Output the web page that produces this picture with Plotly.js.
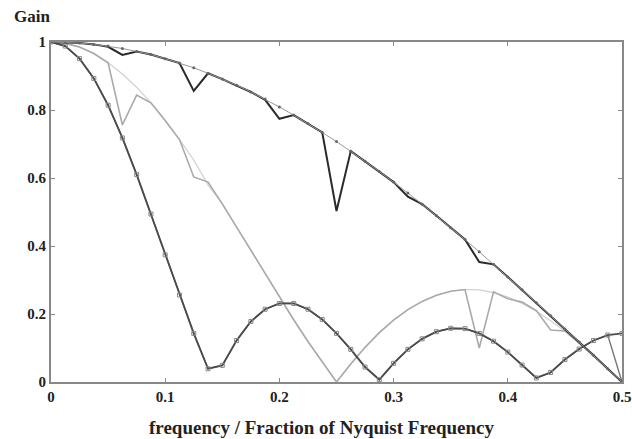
<!DOCTYPE html>
<html>
<head>
<meta charset="utf-8">
<script src="https://cdn.plot.ly/plotly-3.0.1.min.js"></script>
<style>html,body{margin:0;padding:0;background:#fff;}#chart{width:632px;height:439px;}</style>
</head>
<body>
<div id="chart"></div>
<script>
// Frequency samples (fraction of Nyquist)
var freq = [0, 0.0125, 0.025, 0.0375, 0.05, 0.0625, 0.075, 0.0875, 0.1, 0.1125,
  0.125, 0.1375, 0.15, 0.1625, 0.175, 0.1875, 0.2, 0.2125, 0.225, 0.2375,
  0.25, 0.2625, 0.275, 0.2875, 0.3, 0.3125, 0.325, 0.3375, 0.35, 0.3625,
  0.375, 0.3875, 0.4, 0.4125, 0.425, 0.4375, 0.45, 0.4625, 0.475, 0.4875, 0.5];

// Top (black) pair: smooth reference with dots, and measured with dips
var blackSmooth = [1, 0.999, 0.997, 0.993, 0.988, 0.981, 0.972, 0.963, 0.951, 0.938,
  0.924, 0.908, 0.891, 0.873, 0.853, 0.832, 0.809, 0.785, 0.760, 0.734,
  0.707, 0.679, 0.649, 0.619, 0.588, 0.556, 0.523, 0.489, 0.454, 0.419,
  0.383, 0.346, 0.309, 0.271, 0.233, 0.195, 0.156, 0.118, 0.079, 0.039, 0];
var blackMeasured = [1, 0.999, 0.997, 0.993, 0.986, 0.962, 0.972, 0.963, 0.951, 0.938,
  0.856, 0.908, 0.891, 0.873, 0.853, 0.830, 0.774, 0.785, 0.760, 0.734,
  0.503, 0.679, 0.649, 0.619, 0.588, 0.545, 0.523, 0.489, 0.454, 0.419,
  0.353, 0.346, 0.309, 0.271, 0.233, 0.195, 0.156, 0.118, 0.079, 0.039, 0];

// Middle (light grey) pair
var lightSmooth = [1, 0.996, 0.985, 0.966, 0.939, 0.906, 0.867, 0.821, 0.769, 0.713,
  0.653, 0.580, 0.524, 0.456, 0.387, 0.318, 0.250, 0.183, 0.119, 0.058,
  0, 0.053, 0.102, 0.145, 0.182, 0.213, 0.237, 0.255, 0.267, 0.272,
  0.271, 0.263, 0.250, 0.231, 0.208, 0.180, 0.149, 0.114, 0.078, 0.039, 0];
var lightMeasured = [1, 0.996, 0.985, 0.966, 0.939, 0.756, 0.844, 0.821, 0.769, 0.713,
  0.603, 0.588, 0.524, 0.456, 0.387, 0.316, 0.250, 0.183, 0.119, 0.058,
  0, 0.053, 0.102, 0.145, 0.182, 0.213, 0.237, 0.255, 0.267, 0.272,
  0.100, 0.265, 0.245, 0.235, 0.210, 0.153, 0.150, 0.114, 0.078, 0.039, 0];

// Lower (dark grey) pair with square markers
var darkSmooth = [1, 0.988, 0.951, 0.893, 0.814, 0.718, 0.610, 0.494, 0.374, 0.256,
  0.143, 0.039, 0.049, 0.122, 0.178, 0.214, 0.231, 0.231, 0.214, 0.184,
  0.143, 0.096, 0.044, 0.007, 0.055, 0.096, 0.127, 0.148, 0.158, 0.157,
  0.143, 0.120, 0.088, 0.050, 0.012, 0.028, 0.066, 0.097, 0.122, 0.138, 0.143];
var darkMeasured = [1, 0.988, 0.951, 0.893, 0.814, 0.718, 0.610, 0.494, 0.374, 0.256,
  0.143, 0.039, 0.049, 0.122, 0.178, 0.214, 0.231, 0.231, 0.214, 0.184,
  0.143, 0.096, 0.044, 0.007, 0.055, 0.096, 0.127, 0.148, 0.158, 0.157,
  0.143, 0.120, 0.088, 0.050, 0.012, 0.028, 0.066, 0.097, 0.122, 0.138, 0];

var xTitle = "frequency / Fraction of Nyquist Frequency";
var yTitle = "Gain";

var serif = "Liberation Serif, Times New Roman, serif";

var traces = [
  {x: freq, y: lightSmooth, mode: "lines", line: {color: "#d0d0d0", width: 1.2}},
  {x: freq, y: lightMeasured, mode: "lines", line: {color: "#aaaaaa", width: 1.6}},
  {x: freq, y: darkMeasured, mode: "lines", line: {color: "#777777", width: 1.4}},
  {x: freq, y: darkSmooth, mode: "lines+markers", line: {color: "#4a4a4a", width: 1.8},
    marker: {symbol: "square-open", size: 4, color: "#888888", line: {width: 1}}},
  {x: freq, y: blackMeasured, mode: "lines", line: {color: "#2a2a2a", width: 2}},
  {x: freq, y: blackSmooth, mode: "lines+markers", line: {color: "#999999", width: 1},
    marker: {symbol: "circle", size: 3, color: "#666666"}}
];

var axisCommon = {
  showgrid: false, zeroline: false, showline: true, linecolor: "#888888", linewidth: 2,
  mirror: "ticks", ticks: "inside", ticklen: 4, tickcolor: "#888888", tickwidth: 1,
  tickfont: {family: serif, size: 15, color: "#222", weight: "bold"}
};

var layout = {
  width: 632, height: 439,
  margin: {l: 51, r: 10, t: 42, b: 57},
  paper_bgcolor: "#fff", plot_bgcolor: "#fff",
  showlegend: false,
  xaxis: Object.assign({}, axisCommon, {
    range: [0, 0.5], dtick: 0.1, tick0: 0
  }),
  yaxis: Object.assign({}, axisCommon, {
    range: [0, 1], dtick: 0.2, tick0: 0
  }),
  annotations: [{
    text: yTitle, xref: "paper", yref: "paper", x: -0.068, y: 1.076,
    xanchor: "left", yanchor: "middle", showarrow: false,
    font: {family: serif, size: 17, color: "#222", weight: "bold"}
  }, {
    text: xTitle, xref: "paper", yref: "paper", x: 0.4746, y: -0.135,
    xanchor: "center", yanchor: "middle", showarrow: false,
    font: {family: serif, size: 19, color: "#222", weight: "bold"}
  }]
};

Plotly.newPlot("chart", traces, layout, {staticPlot: true, displayModeBar: false});
</script>
</body>
</html>
